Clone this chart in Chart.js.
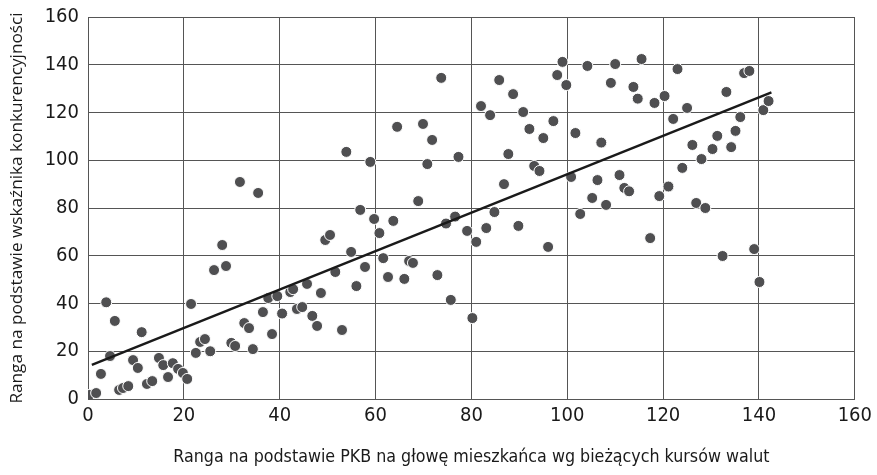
<!DOCTYPE html>
<html>
<head>
<meta charset="utf-8">
<script src="https://cdn.jsdelivr.net/npm/chart.js@4"></script>
<style>
  html, body { margin: 0; padding: 0; background: #fff; }
  #wrap { width: 877px; height: 475px; }
</style>
</head>
<body>
<div id="wrap"><canvas id="rankChart" width="877" height="475"></canvas></div>
<script>
// ranga wg PKB (x) i ranga wg wskaznika konkurencyjnosci (y)
const gdpRank = [
  0.3, 1.7, 2.7, 3.8, 4.6, 5.6, 6.5, 7.3, 8.4, 9.4,
  10.4, 11.2, 12.3, 13.4, 14.8, 15.7, 16.7, 17.7, 18.8, 19.8,
  20.7, 21.5, 22.5, 23.4, 24.4, 25.5, 26.3, 28, 28.8, 29.9,
  30.7, 31.7, 32.6, 33.6, 34.4, 35.5, 36.5, 37.6, 38.4, 39.5,
  40.5, 42.2, 42.8, 43.6, 44.7, 45.7, 46.8, 47.8, 48.6, 49.5,
  50.5, 51.6, 53, 53.9, 54.9, 56, 56.8, 57.8, 58.9, 59.7,
  60.8, 61.6, 62.6, 63.7, 64.5, 66, 67, 67.8, 68.9, 69.9,
  70.8, 71.8, 72.9, 73.7, 74.7, 75.7, 76.6, 77.3, 79.1,
  80.2, 81, 82, 83.1, 83.9, 84.8, 85.8, 86.8, 87.7, 88.7,
  89.8, 90.8, 92.1, 93.1, 94.2, 95, 96, 97.1, 97.9, 99, 99.8,
  100.8, 101.7, 102.7, 104.2, 105.2, 106.3, 107.1, 108.1, 109.1, 110,
  110.9, 111.9, 112.9, 113.8, 114.7, 115.5, 117.3, 118.2, 119.2, 120.3,
  121.1, 122.1, 123, 124, 125, 126.1, 126.9, 128, 128.8, 130.3,
  131.3, 132.4, 133.2, 134.2, 135.1, 136.1, 136.9, 138, 139, 140.1,
  140.9, 142
];
const compRank = [
  1.7, 2.5, 10.5, 40.5, 18, 32.7, 3.8, 4.6, 5.4, 16.3,
  13, 28, 6.3, 7.5, 17.2, 14.2, 9.2, 15, 12.6, 10.9,
  8.4, 39.8, 19.3, 23.9, 25.1, 20, 54, 64.5, 55.7, 23.5,
  22.2, 90.9, 31.8, 29.7, 20.9, 86.3, 36.4, 42.3, 27.2, 43.1,
  35.8, 44.8, 46, 37.7, 38.5, 48.2, 34.8, 30.6, 44.4, 66.6,
  68.7, 53.2, 28.9, 103.5, 61.6, 47.3, 79.2, 55.3, 99.3, 75.4,
  69.5, 59, 51.1, 74.6, 114, 50.3, 57.8, 57, 82.9, 115.2,
  98.4, 108.5, 51.9, 134.5, 73.5, 41.5, 76.4, 101.4, 70.4,
  33.9, 65.8, 122.7, 71.6, 118.9, 78.3, 133.6, 90, 102.6, 127.7,
  72.5, 120.2, 113.1, 97.6, 95.5, 109.3, 63.7, 116.4, 135.7, 141.2, 131.5,
  93, 111.4, 77.5, 139.5, 84.2, 91.7, 107.4, 81.3, 132.4, 140.3,
  93.8, 88.4, 87, 130.7, 125.8, 142.4, 67.4, 124, 85, 126.9,
  89, 117.3, 138.2, 96.8, 121.9, 106.4, 82.1, 100.5, 80, 104.7,
  110.2, 59.9, 128.6, 105.5, 112.3, 118.1, 136.5, 137.4, 62.8, 49,
  121, 124.8
];

// linia trendu (koncowki)
const trendX = [0.8, 142.6];
const trendY = [14.3, 128.4];

const xTicks = [0, 20, 40, 60, 80, 100, 120, 140, 160];
const yTicks = [0, 20, 40, 60, 80, 100, 120, 140, 160];

const xTitle = 'Ranga na podstawie PKB na głowę mieszkańca wg bieżących kursów walut';
const yTitle = 'Ranga na podstawie wskaźnika konkurencyjności';

const narrow = "'Liberation Sans Narrow', 'DejaVu Sans Condensed', 'Roboto', sans-serif";
const gridColor = '#555';

const points = gdpRank.map((x, i) => ({ x: x, y: compRank[i] }));
const trend = trendX.map((x, i) => ({ x: x, y: trendY[i] }));

const ctx = document.getElementById('rankChart').getContext('2d');
const chart = new Chart(ctx, {
    type: 'scatter',
    data: {
        datasets: [
            {
                label: 'trend',
                data: trend,
                showLine: true,
                borderColor: '#1a1a1a',
                borderWidth: 2.5,
                pointRadius: 0,
                order: 0
            },
            {
                label: 'kraje',
                data: points,
                backgroundColor: '#4f4f51',
                borderColor: '#ffffff',
                borderWidth: 1,
                pointRadius: 5.5,
                order: 1
            }
        ]
    },
    options: {
        responsive: false,
        animation: false,
        layout: { padding: { top: 17, right: 21, bottom: 0, left: 0 } },
        plugins: {
            legend: { display: false },
            tooltip: { enabled: false }
        },
        scales: {
            x: {
                type: 'linear',
                min: 0,
                max: 160,
                afterBuildTicks: s => { s.ticks = xTicks.map(v => ({ value: v })); },
                afterFit: s => { s.height = 76; },
                grid: { color: gridColor, lineWidth: 1, drawTicks: false },
                border: { color: gridColor },
                ticks: {
                    color: '#1a1a1a',
                    font: { family: narrow, size: 20 },
                    padding: 5
                },
                title: {
                    display: true,
                    text: xTitle,
                    color: '#1a1a1a',
                    font: { family: narrow, size: 17.7 },
                    padding: { top: 0, bottom: 7 }
                }
            },
            y: {
                type: 'linear',
                min: 0,
                max: 160,
                afterBuildTicks: s => { s.ticks = yTicks.map(v => ({ value: v })); },
                afterFit: s => { s.width = 88; s.paddingTop = 0; s.paddingBottom = 0; },
                grid: { color: gridColor, lineWidth: 1, drawTicks: false },
                border: { color: gridColor },
                ticks: {
                    color: '#1a1a1a',
                    font: { family: narrow, size: 20, lineHeight: 1 },
                    padding: 9
                },
                title: {
                    display: true,
                    text: yTitle,
                    color: '#1a1a1a',
                    font: { family: "'Open Sans', 'Liberation Sans', sans-serif", size: 17.2 },
                    padding: { top: 7, bottom: 0 }
                }
            }
        }
    }
});
</script>
</body>
</html>
